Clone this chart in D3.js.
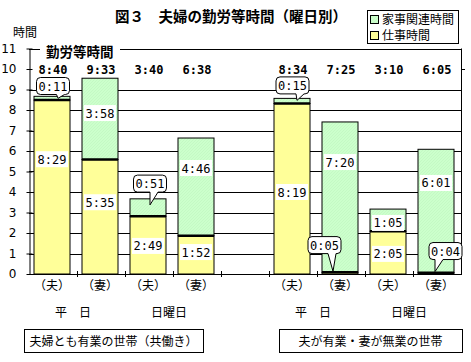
<!DOCTYPE html>
<html>
<head>
<meta charset="utf-8">
<script src="https://cdn.jsdelivr.net/npm/d3@7"></script>
<style>
  body { margin: 0; background: #fff; }
  text { font-family: "Noto Sans CJK JP", sans-serif; fill: #000; }
  .num { font-family: "DejaVu Sans Mono", monospace; font-size: 12px; }
</style>
</head>
<body>
<div id="chart"></div>
<script>
// data (h:mm)
var categories = ["共働き・平日・夫", "共働き・平日・妻", "共働き・日曜日・夫", "共働き・日曜日・妻",
                  "片働き・平日・夫", "片働き・平日・妻", "片働き・日曜日・夫", "片働き・日曜日・妻"];
var members = ["（夫）", "（妻）", "（夫）", "（妻）", "（夫）", "（妻）", "（夫）", "（妻）"];
var workTime = ["8:29", "5:35", "2:49", "1:52", "8:19", "0:05", "2:05", "0:04"];
var houseTime = ["0:11", "3:58", "0:51", "4:46", "0:15", "7:20", "1:05", "6:01"];
var totalTime = ["8:40", "9:33", "3:40", "6:38", "8:34", "7:25", "3:10", "6:05"];
var dayNames = ["平　日", "日曜日", "平　日", "日曜日"];
var groupNames = ["夫婦とも有業の世帯（共働き）", "夫が有業・妻が無業の世帯"];
var yTicks = [0, 1, 2, 3, 4, 5, 6, 7, 8, 9, 10, 11];

// where the value labels sit (hours), as placed in the original
var workLabelAt = [5.6, 3.5, 1.37, 1.07, 4.0, null, 0.98, null];
var houseLabelAt = [null, 7.85, null, 5.17, null, 5.46, 2.49, 4.44];
var callouts = [
  { i: 0, series: "house", dx: 1, at: 9.17, tipX: 6 },
  { i: 2, series: "house", dx: 2, at: 4.41, tipX: 2, tipAt: 3.37 },
  { i: 4, series: "house", dx: 0.5, at: 9.2, tipX: 5 },
  { i: 5, series: "work", dx: -15.5, at: 1.41, tipX: -7 },
  { i: 7, series: "work", dx: 9.5, at: 1.12, tipX: -1 }
];

var toHours = s => { var p = s.split(":"); return +p[0] + p[1] / 60; };

var width = 471, height = 362;
var left = 29, right = 461, y0 = 274, yTop = 48.5;

var svg = d3.select("#chart").append("svg")
  .attr("width", width).attr("height", height);

var pat = svg.append("defs").append("pattern").attr("id", "hatch")
  .attr("width", 3).attr("height", 3)
  .attr("patternUnits", "userSpaceOnUse");
pat.append("rect").attr("width", 3).attr("height", 3).attr("fill", "#ccffcc");
pat.append("path").attr("d", "M0,3 L3,0").attr("stroke", "#bff5bf").attr("stroke-width", 0.6);

var slots = categories.slice(0, 4).concat(["gap"], categories.slice(4));
var xScale = d3.scaleBand().domain(slots).range([left, right]);
var barW = xScale.bandwidth() * 0.75;
var cx = c => xScale(c) + xScale.bandwidth() / 2 - 1;

var yScale = d3.scaleLinear().domain([0, 11]).range([y0, yTop]);
var py = v => Math.round(yScale(v)) + 0.5;

// grid lines (the 10 line is hidden behind the totals row)
svg.append("g").selectAll("line")
  .data(yTicks.filter(d => d > 0 && d < 10))
  .join("line")
  .attr("x1", left).attr("x2", right)
  .attr("y1", py).attr("y2", py)
  .attr("stroke", "#000");

// left axis
var yAxis = d3.axisLeft(yScale).tickValues(yTicks).tickSize(3).tickSizeOuter(0).tickPadding(10);
var ya = svg.append("g").attr("transform", `translate(${left + 0.5},0)`).call(yAxis);
ya.selectAll("text").style("font-size", "12px").style("font-family", "\"DejaVu Sans\", sans-serif");
ya.select(".domain").attr("stroke", "#000");
ya.selectAll(".tick line").attr("x1", 3).attr("x2", -3);

// right frame and frame top
svg.append("line").attr("x1", right + 0.5).attr("x2", right + 0.5)
  .attr("y1", yTop).attr("y2", y0).attr("stroke", "#000");
svg.append("line").attr("x1", right).attr("x2", right + 4)
  .attr("y1", py(10)).attr("y2", py(10)).attr("stroke", "#000");
svg.append("line").attr("x1", left).attr("x2", right + 1)
  .attr("y1", py(11)).attr("y2", py(11)).attr("stroke", "#000");

// bars
var bars = svg.append("g");
categories.forEach((c, i) => {
  var w = toHours(workTime[i]), h = toHours(houseTime[i]);
  var x = cx(c) - barW / 2;
  bars.append("rect").attr("x", x).attr("width", barW)
    .attr("y", yScale(w + h)).attr("height", yScale(w) - yScale(w + h))
    .attr("fill", "url(#hatch)").attr("stroke", "#000");
  bars.append("rect").attr("x", x).attr("width", barW)
    .attr("y", yScale(w)).attr("height", y0 - yScale(w))
    .attr("fill", "#ffff99").attr("stroke", "#000");
  bars.append("line").attr("x1", x).attr("x2", x + barW)
    .attr("y1", yScale(w)).attr("y2", yScale(w))
    .attr("stroke", "#000").attr("stroke-width", 2.5);
});

// bottom axis
svg.append("line").attr("x1", left).attr("x2", right + 1)
  .attr("y1", y0 + 0.5).attr("y2", y0 + 0.5).attr("stroke", "#000");
svg.append("g").selectAll("line")
  .data(slots.slice(1))
  .join("line")
  .attr("x1", d => Math.round(xScale(d)) + 0.5).attr("x2", d => Math.round(xScale(d)) + 0.5)
  .attr("y1", y0 - 3).attr("y2", y0 + 3).attr("stroke", "#000");

// value labels in white boxes
function boxLabel(x, y, txt) {
  var g = svg.append("g");
  g.append("rect").attr("x", x - 16).attr("y", y - 8).attr("width", 32).attr("height", 16).attr("fill", "#fff");
  g.append("text").attr("class", "num").attr("x", x).attr("y", y + 4.5)
    .attr("text-anchor", "middle").text(txt);
}
categories.forEach((c, i) => {
  if (workLabelAt[i] != null) boxLabel(cx(c), yScale(workLabelAt[i]), workTime[i]);
  if (houseLabelAt[i] != null) boxLabel(cx(c), yScale(houseLabelAt[i]), houseTime[i]);
});

// callouts for small values
callouts.forEach(d => {
  var c = categories[d.i];
  var w = toHours(workTime[d.i]), h = toHours(houseTime[d.i]);
  var txt = d.series === "work" ? workTime[d.i] : houseTime[d.i];
  var top = d.series === "work" ? w : w + h;
  var bx = cx(c) + d.dx, by = yScale(d.at);
  var x0 = bx - 16.5, x1 = bx + 16.5, t = by - 8.5, b = by + 8.5, r = 4;
  var tx = cx(c) + d.tipX;
  var ty = d.tipAt != null ? yScale(d.tipAt) : yScale(top) + (d.series === "work" ? -1 : 2);
  var p0 = Math.min(Math.max(tx, x0 + 5), x1 - 13), p1 = p0 + 8;
  var path = `M${x0 + r},${t} L${x1 - r},${t} Q${x1},${t} ${x1},${t + r} L${x1},${b - r} Q${x1},${b} ${x1 - r},${b}` +
    ` L${p1},${b} L${tx},${ty} L${p0},${b} L${x0 + r},${b} Q${x0},${b} ${x0},${b - r} L${x0},${t + r} Q${x0},${t} ${x0 + r},${t} Z`;
  svg.append("path").attr("d", path).attr("fill", "#fff").attr("stroke", "#000");
  svg.append("text").attr("class", "num").attr("x", bx).attr("y", by + 4.5)
    .attr("text-anchor", "middle").text(txt);
});

// totals row
svg.append("g").selectAll("text")
  .data(categories)
  .join("text")
  .attr("class", "num")
  .attr("x", d => cx(d) + 1).attr("y", yScale(10) + 4.5)
  .attr("text-anchor", "middle").attr("font-weight", "bold")
  .text((d, i) => totalTime[i]);

// series caption on frame
svg.append("rect").attr("x", 40).attr("y", 42).attr("width", 80).attr("height", 16).attr("fill", "#fff");
svg.append("text").attr("x", 46).attr("y", 57).attr("font-size", "13.5px").attr("font-weight", "bold")
  .text("勤労等時間");

// x labels
svg.append("g").selectAll("text")
  .data(categories)
  .join("text")
  .attr("x", d => cx(d)).attr("y", 290).attr("text-anchor", "middle").attr("font-size", "12px")
  .text((d, i) => members[i]);
svg.append("g").selectAll("text")
  .data(dayNames)
  .join("text")
  .attr("x", (d, i) => (cx(categories[i * 2]) + cx(categories[i * 2 + 1])) / 2 - 3)
  .attr("y", 317).attr("text-anchor", "middle").attr("font-size", "12px")
  .text(d => d);

// group boxes
var gb = [[24, 203], [279, 462]];
groupNames.forEach((n, i) => {
  svg.append("rect").attr("x", gb[i][0] + 0.5).attr("y", 329.5).attr("width", gb[i][1] - gb[i][0]).attr("height", 23)
    .attr("fill", "#fff").attr("stroke", "#000");
  svg.append("text").attr("x", (gb[i][0] + gb[i][1]) / 2).attr("y", 345.5).attr("text-anchor", "middle")
    .attr("font-size", "12px").text(n);
});

// title and axis unit
svg.append("text").attr("x", 115).attr("y", 22).attr("font-size", "14.5px").attr("font-weight", "bold")
  .text("図３　夫婦の勤労等時間（曜日別）");
svg.append("text").attr("x", 13).attr("y", 37).attr("font-size", "12px").text("時間");

// legend
var lg = svg.append("g");
lg.append("rect").attr("x", 367.5).attr("y", 10.5).attr("width", 91).attr("height", 33)
  .attr("fill", "#fff").attr("stroke", "#000");
[["家事関連時間", "url(#hatch)"], ["仕事時間", "#ffff99"]].forEach((d, i) => {
  lg.append("rect").attr("x", 370.5).attr("y", 15.5 + i * 16).attr("width", 8).attr("height", 8)
    .attr("fill", d[1]).attr("stroke", "#000");
  lg.append("text").attr("x", 382).attr("y", 24 + i * 16).attr("font-size", "12px").text(d[0]);
});
</script>
</body>
</html>
